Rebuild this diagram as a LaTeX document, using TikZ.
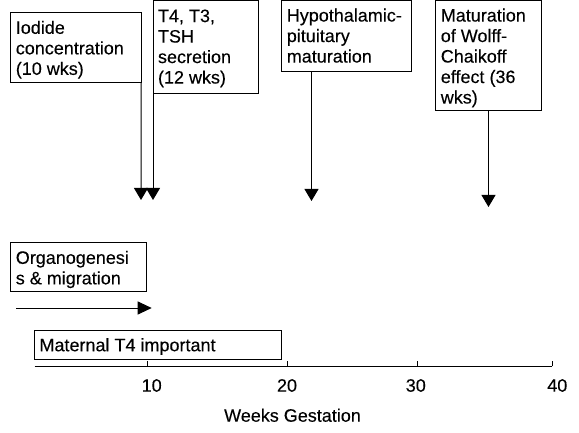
\documentclass[tikz,border=0pt]{standalone}
\usepackage{fontspec}
\setmainfont[FakeBold=0.2]{Liberation Sans}
\usetikzlibrary{arrows.meta}
\begin{document}
\begin{tikzpicture}[x=1pt,y=-1pt,line width=1pt,
  box/.style={draw,line width=1pt,inner sep=0pt,outer sep=0pt,anchor=north west},
  txt/.style={anchor=north west,inner sep=0pt,outer sep=0pt,align=left,font=\fontsize{18}{20.5}\selectfont},
  lbl/.style={anchor=base,inner sep=0pt,font=\fontsize{18}{20.5}\selectfont},
  arr/.style={line width=1pt,-{Triangle[width=14pt,length=12pt]}},
  harr/.style={line width=1pt,-{Triangle[width=13pt,length=14pt]}}]
\useasboundingbox (0,0) rectangle (579,433);
% boxes
\node[box,minimum width=130.2pt,minimum height=69.4pt] (iodide) at (10.8,12.8) {};
\node[box,minimum width=105.2pt,minimum height=92.7pt] (t4) at (153,0.5) {};
\node[box,minimum width=129.4pt,minimum height=71.3pt] (hypo) at (281.8,0.5) {};
\node[box,minimum width=105.4pt,minimum height=110.3pt] (wolff) at (435.8,0.5) {};
\node[box,minimum width=135.7pt,minimum height=48.4pt] (organo) at (10.8,242.8) {};
\node[box,minimum width=247pt,minimum height=29.6pt] (maternal) at (34.5,330.2) {};
% texts
\node[txt] (iodidetxt) at ([xshift=5pt,yshift=-8pt]iodide.north west) {Iodide\\concentration\\(10 wks)};
\node[txt] (t4txt) at ([xshift=5pt,yshift=-9pt]t4.north west) {T4, T3,\\TSH\\secretion\\(12 wks)};
\node[txt] (hypotxt) at ([xshift=5pt,yshift=-8pt]hypo.north west) {Hypothalamic-\\pituitary\\maturation};
\node[txt] (wolfftxt) at ([xshift=5pt,yshift=-8pt]wolff.north west) {Maturation\\of Wolff-\\Chaikoff\\effect (36\\wks)};
\node[txt] (organotxt) at ([xshift=5pt,yshift=-8pt]organo.north west) {Organogenesi\\s \& migration};
\node[txt] (maternaltxt) at ([xshift=5pt,yshift=-8pt]maternal.north west) {Maternal T4 important};
% arrow tips
\coordinate (iodidetip) at (141,200);
\coordinate (t4tip) at (153,200);
\coordinate (hypotip) at (311.5,201);
\coordinate (wolfftip) at (488.5,207);
\coordinate (orgstart) at (16,308);
\coordinate (orgtip) at (151.7,308);
\draw[arr] (iodide.south east) -- (iodidetip);
\draw[arr] (t4.south west) -- (t4tip);
\draw[arr] (hypotip |- hypo.south) -- (hypotip);
\draw[arr] (wolff.south) -- (wolfftip);
\draw[harr] (orgstart) -- (orgtip);
% axis
\draw (34.5,366.3) -- (552.3,366.3);
\foreach \x in {147,287.3,417.3,552.3} \draw (\x,366.3) -- (\x,360.5);
\node[lbl] (t10) at (151.7,391.7) {10};
\node[lbl] (t20) at (287,391.7) {20};
\node[lbl] (t30) at (415.8,391.7) {30};
\node[lbl] (t40) at (557.3,391.7) {40};
\node[lbl] (axtitle) at (292.5,421.7) {Weeks Gestation};
\end{tikzpicture}
\end{document}
